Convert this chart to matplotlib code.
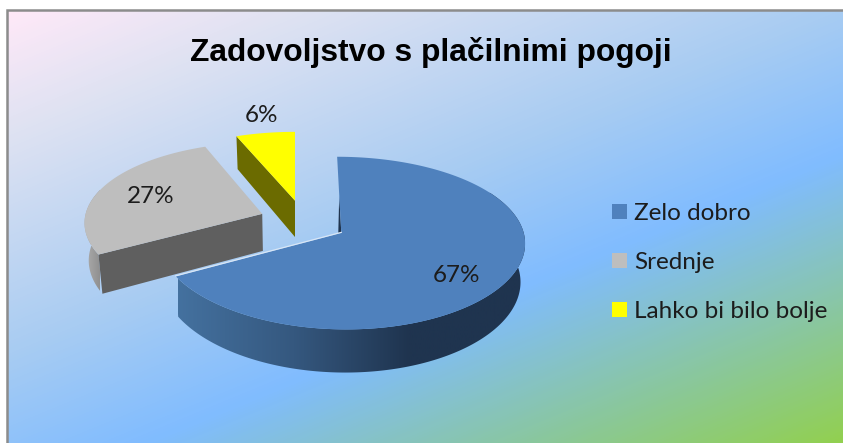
import numpy as np
import matplotlib
matplotlib.use("Agg")
import matplotlib.pyplot as plt
from matplotlib.colors import LinearSegmentedColormap
from matplotlib.patches import Polygon, Patch

title = "Zadovoljstvo s plačilnimi pogoji"
categories = ["Zelo dobro", "Srednje", "Lahko bi bilo bolje"]
values = [67, 27, 6]
colors = ["#4f81bd", "#bebebe", "#ffff00"]
offsets = [(0.25, 0.01), (-0.181, -0.216), (0.0, -0.38)]
radii = [0.985, 0.975, 0.97]
label_pos = [(456, 275), (151, 196), (262, 115)]

W, H = 843, 443
fig = plt.figure(figsize=(W / 100, H / 100), dpi=100, facecolor="white")
ax = fig.add_axes([0, 0, 1, 1])
ax.set_xlim(0, W)
ax.set_ylim(H, 0)
ax.axis("off")

# background gradient
L, T, R, B = 8, 11, W, H
xx, yy = np.meshgrid(np.arange(L, R), np.arange(T, B))
p = 0.38 * xx + 0.92 * yy
t = (p - p.min()) / (p.max() - p.min())
bg = LinearSegmentedColormap.from_list(
    "bg", [(0, "#ffe9f8"), (0.16, "#dee2f2"), (0.44, "#a8ccf2"), (0.63, "#80bcff"), (1, "#92d050")])
ax.imshow(t, extent=(L, R, B, T), cmap=bg, vmin=0, vmax=1, aspect="auto", zorder=0)
ax.plot([7.2, 7.2, W], [H, 10.2, 10.2], color="#8c8c8c", lw=1.8, solid_joinstyle="miter", zorder=1)

CX, CY, FX, FY, KX, KY = 295, 232, 185, 86.2, 0.10, 0.12
DEPTH = 38
LEAN = 0.02


def proj(X, Z):
    X, Z = np.asarray(X, float), np.asarray(Z, float)
    return CX + FX * X / (1 - KX * Z), CY + FY * Z / (1 - KY * Z), DEPTH / (1 - KY * Z)


def rim(a_deg, off, r):
    a = np.radians(a_deg)
    return proj(off[0] + r * np.sin(a), off[1] - r * np.cos(a))


def down(x, y, d):
    return x + LEAN * (CX - x), y + d


def shade(poly, cols, x0, x1, z):
    grad = np.linspace(0, 1, 256)[None, :]
    cm = LinearSegmentedColormap.from_list("w", cols)
    im = ax.imshow(grad, extent=(x0, x1, H, 0), cmap=cm, aspect="auto", zorder=z)
    patch = Polygon(poly, closed=True, transform=ax.transData, fc="none", ec="none", zorder=z)
    ax.add_patch(patch)
    im.set_clip_path(patch)


cum = np.concatenate([[0], np.cumsum(values)]) * 3.6
wall_style = {0: ["#44719f", "#35587f", "#1f344f", "#1f344f"], 1: ["#b0b0b0", "#8f8f8f"]}
wall_x = {0: (178, 525), 1: (84, 100)}
face_col = {1: "#5f5f5f", 2: "#6b6b00"}

for n, i in enumerate([1, 2, 0]):
    a0, a1 = cum[i], cum[i + 1]
    off, r = offsets[i], radii[i]
    z = 3 + n * 4
    rx, ry, _ = rim(np.linspace(a0, a1, 200), off, r)
    px, py, pd = proj(off[0], off[1])
    if i in wall_style:
        wa = np.linspace(60, a1, 200) if i == 0 else np.linspace(a0, 300, 80)
        wx, wy, wd = rim(wa, off, r)
        bx, by = down(wx, wy, wd)
        poly = np.r_[np.c_[wx, wy], np.c_[bx, by][::-1]]
        shade(poly, wall_style[i], wall_x[i][0], wall_x[i][1], z)
    if i in face_col:
        ex, ey, ed = rim(a0, off, r)
        ax.add_patch(Polygon([(px, py), (ex, ey), down(ex, ey, ed), down(px, py, pd)],
                             fc=face_col[i], ec="none", zorder=z + 1))
    if i == 0:
        ex, ey, ed = rim(0, off, r)
        ax.add_patch(Polygon([((ex + px) / 2, (ey + py) / 2 + 1), (px, py), (px - 3, py)],
                             fc="#1f344f", ec="none", zorder=z + 1))
    ax.add_patch(Polygon(np.r_[[[px, py]], np.c_[rx, ry]], fc=colors[i], ec="none", zorder=z + 2))
    if i == 0:
        ex, ey, _ = rim(a1, off, r)
        ax.plot([px, ex], [py - 0.5, ey - 0.5], color="#d8e6f6", lw=0.9, zorder=z + 3)

handles = [Patch(fc=c, ec="none") for c in colors]
leg = ax.legend(handles, categories, loc="upper left", bbox_to_anchor=(612 / W, 1 - 203 / H), frameon=False,
                prop={"family": "Lato", "size": 17.5}, handlelength=0.61, handleheight=0.61,
                handletextpad=0.3, labelspacing=1.15, borderpad=0, borderaxespad=0)
for txt in leg.get_texts():
    txt.set_color("#1c1c1c")

for v, (x, y) in zip(values, label_pos):
    ax.text(x, y, f"{v}%", ha="center", va="center", family="Lato", fontsize=17.5, color="#1c1c1c", zorder=20)
ax.text(431, 52, title, ha="center", va="center", family="Liberation Sans", weight="bold", fontsize=22.9, color="black", zorder=20)

ax.set_xlim(0, W)
ax.set_ylim(H, 0)
fig.savefig("out.png", dpi=100)
